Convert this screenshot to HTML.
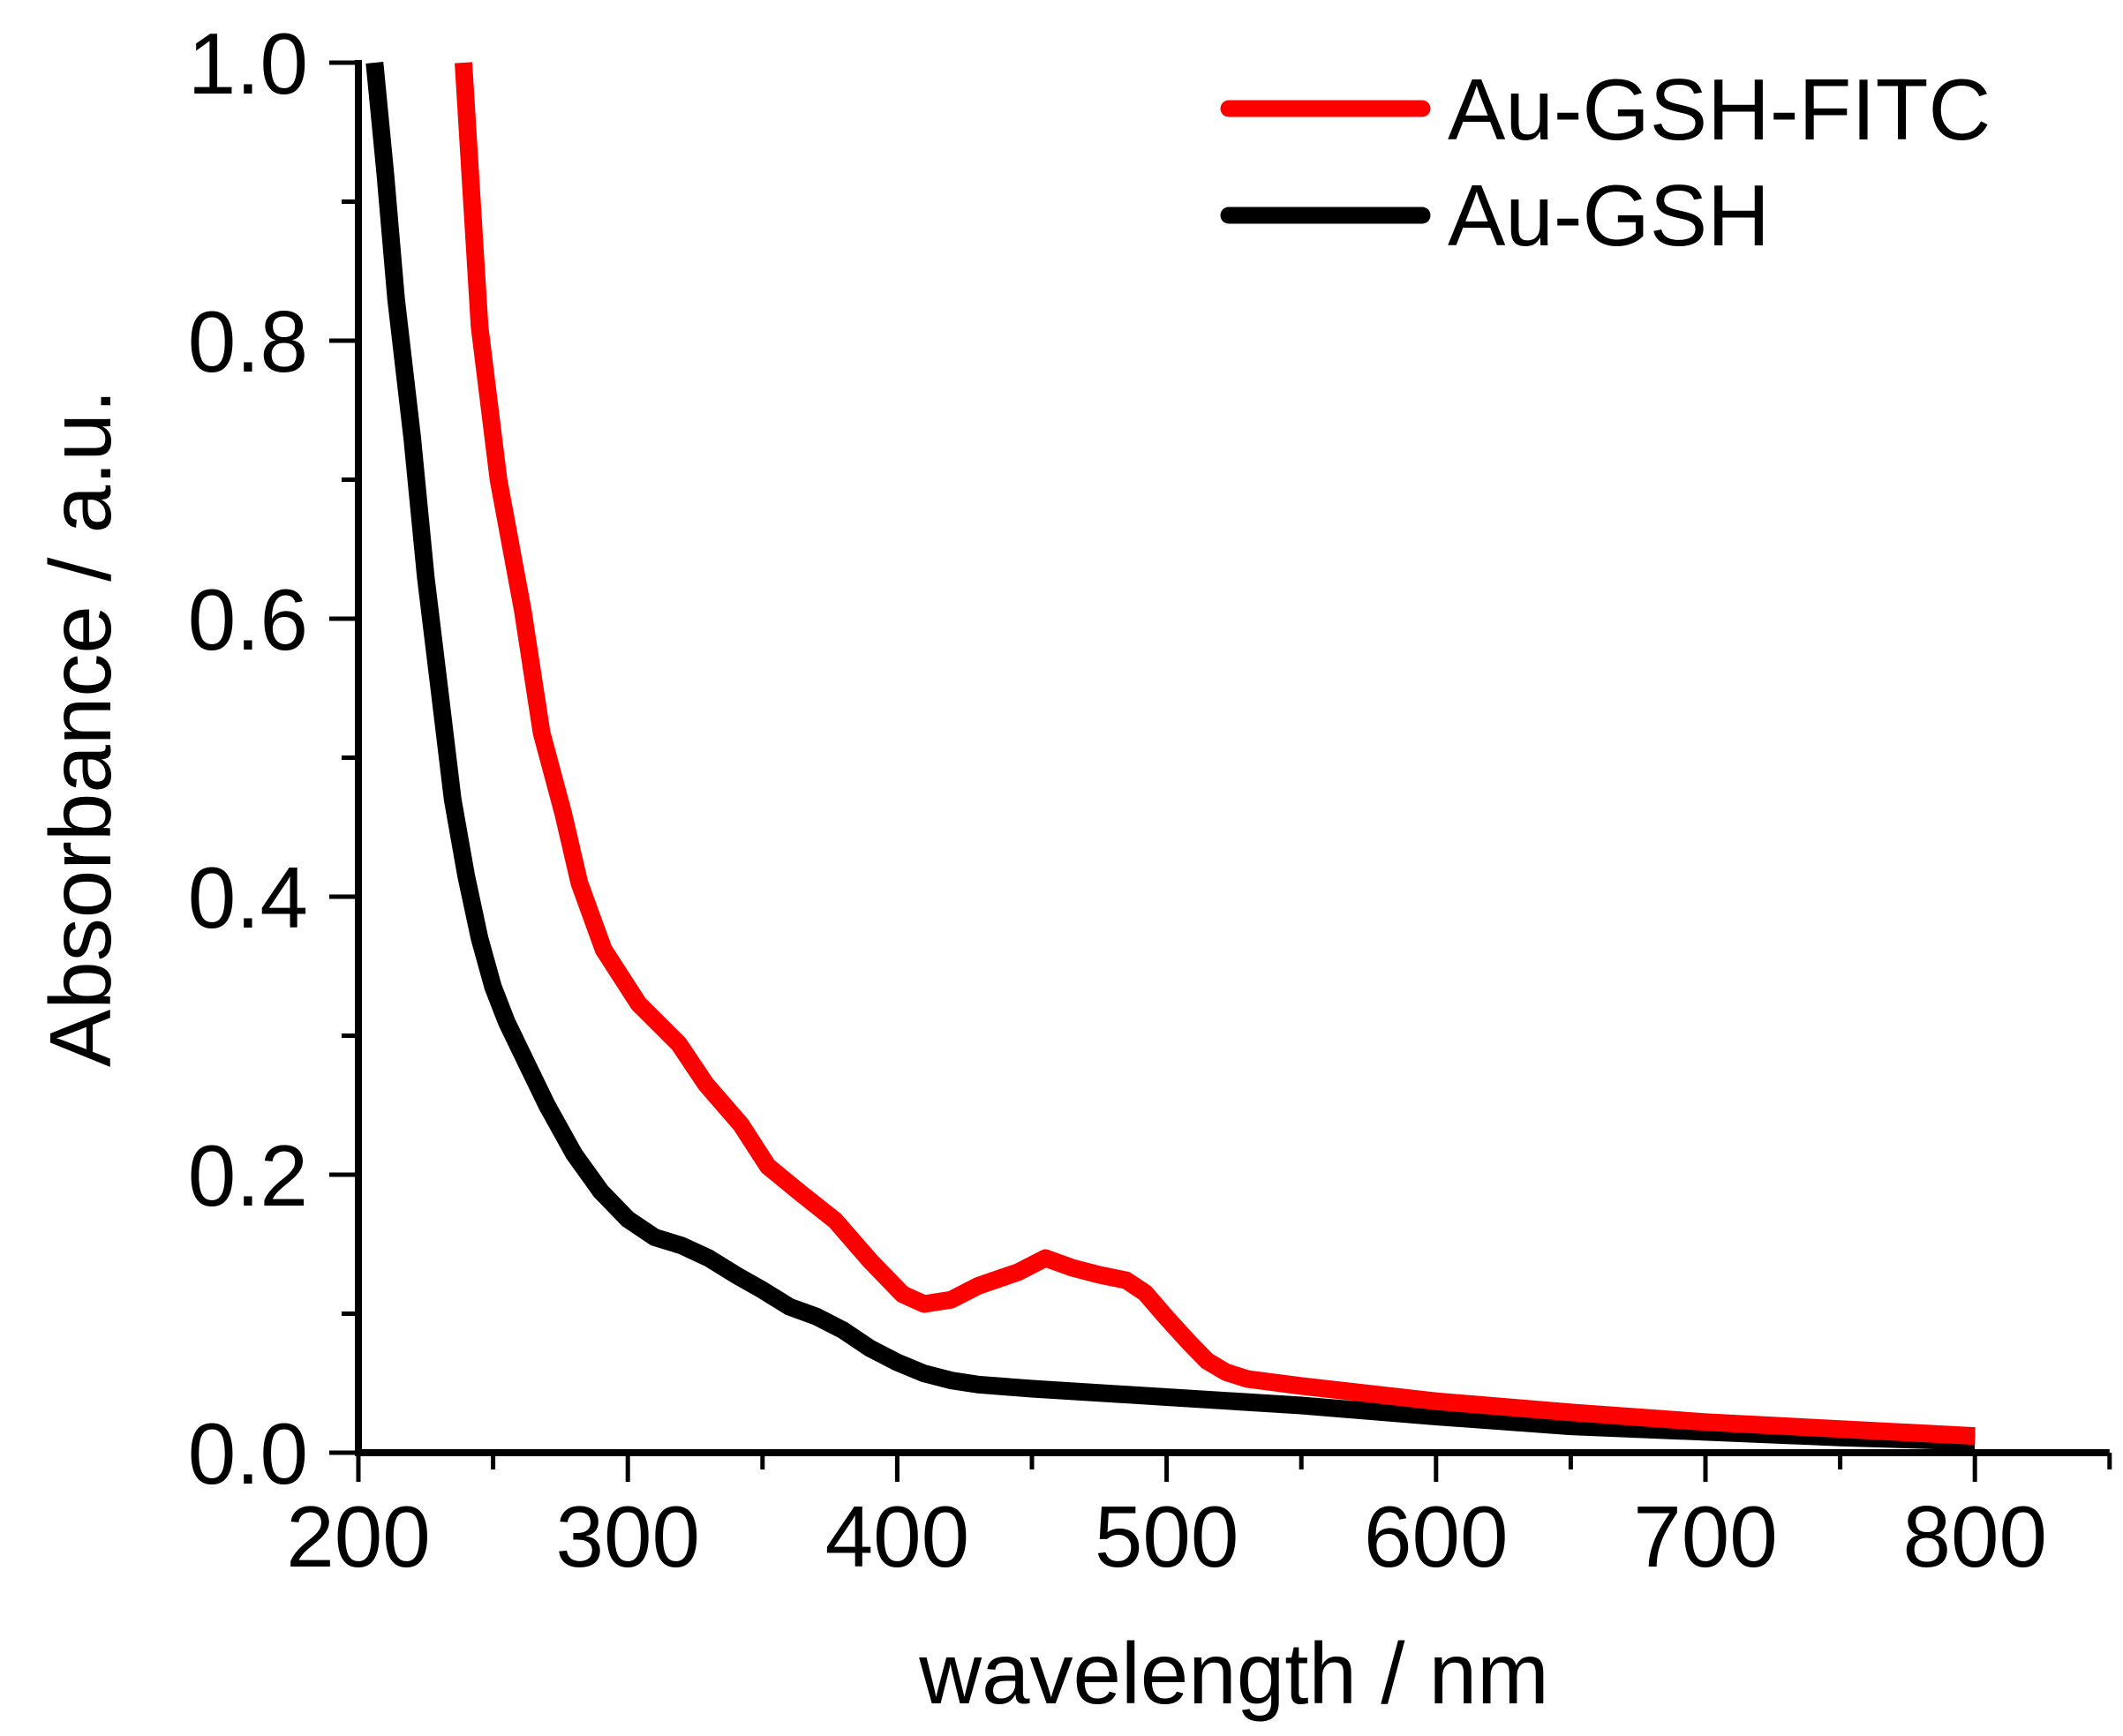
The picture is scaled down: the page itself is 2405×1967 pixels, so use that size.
<!DOCTYPE html>
<html><head><meta charset="utf-8"><style>
html,body{margin:0;padding:0;background:#fff;}
svg{display:block;font-family:"Liberation Sans",Arial,sans-serif;}
</style></head><body>
<svg id="chart" width="2405" height="1967" viewBox="0 0 2405 1967" xmlns="http://www.w3.org/2000/svg">
<g id="axes"></g>
<g id="series"></g>
<g id="legend">
  <line x1="1392" y1="123" x2="1611" y2="123" stroke="#ff0000" stroke-width="19" stroke-linecap="round"/>
  <text x="1640" y="158" font-size="98">Au-GSH-FITC</text>
  <line x1="1392" y1="244" x2="1611" y2="244" stroke="#000" stroke-width="19" stroke-linecap="round"/>
  <text x="1640" y="278" font-size="98">Au-GSH</text>
</g>
<text x="1398" y="1930" font-size="98" text-anchor="middle">wavelength / nm</text>
<text transform="translate(125,825) rotate(-90)" font-size="98" text-anchor="middle">Absorbance / a.u.</text>
</svg>
<script>
const xTicks = [200,300,400,500,600,700,800];
const yTicks = [0.0,0.2,0.4,0.6,0.8,1.0];
const yTickLabels = ["0.0","0.2","0.4","0.6","0.8","1.0"];
const gshX = [206,210,214,220,225,230,235,240,245,250,255,260,270,280,290,300,310,320,330,340,350,360,370,380,390,400,410,420,430,450,500,550,600,650,700,750,800];
const gshY = [1.0,0.92,0.83,0.73,0.63,0.55,0.47,0.415,0.37,0.335,0.31,0.29,0.25,0.215,0.188,0.168,0.155,0.149,0.14,0.128,0.117,0.105,0.098,0.088,0.075,0.065,0.057,0.052,0.049,0.046,0.040,0.034,0.026,0.019,0.015,0.011,0.008];
const fitcX = [239,245,252,261,268,276,282,291,304,319,329,342,352,364,377,390,402,410,420,430,445,455,465,475,485,492,500,508,515,522,530,550,600,650,700,750,800];
const fitcY = [1.0,0.81,0.70,0.606,0.518,0.46,0.41,0.362,0.323,0.294,0.265,0.236,0.206,0.187,0.167,0.138,0.114,0.107,0.11,0.12,0.13,0.14,0.133,0.128,0.124,0.115,0.097,0.08,0.066,0.058,0.053,0.048,0.037,0.029,0.022,0.017,0.012];

const X0=406, XPER=305.2/100, Y0=1646, YPER=1575;
function sx(v){return X0+(v-200)*XPER;}
function sy(v){return Y0-v*YPER;}
const NS="http://www.w3.org/2000/svg";
function mk(tag,attrs,parent){const e=document.createElementNS(NS,tag);for(const k in attrs)e.setAttribute(k,attrs[k]);parent.appendChild(e);return e;}
const axes=document.getElementById('axes');
let e;
e=mk('line',{x1:X0,y1:sy(1.0)-3,x2:X0,y2:Y0+4,stroke:'#000','stroke-width':8},axes);


e=mk('line',{x1:X0-4,y1:Y0,x2:sx(850),y2:Y0,stroke:'#000','stroke-width':8},axes);


for(let v=200;v<=850;v+=50){
  const major=(v%100===0);
  e=mk('line',{x1:sx(v),y1:Y0,x2:sx(v),y2:Y0+(major?33:19),stroke:'#000','stroke-width':5},axes);
  
  
}
xTicks.forEach(v=>{
  e=mk('text',{x:sx(v),y:1775,'font-size':98,'text-anchor':'middle'},axes);
  e.textContent=String(v);
  
  
});
for(let i=0;i<=10;i++){
  const v=i/10, major=(i%2===0);
  e=mk('line',{x1:X0-(major?33:19),y1:sy(v),x2:X0,y2:sy(v),stroke:'#000','stroke-width':5},axes);
  
  
}
yTicks.forEach((v,i)=>{
  e=mk('text',{x:349,y:sy(v)+35,'font-size':98,'text-anchor':'end'},axes);
  e.textContent=yTickLabels[i];
  
  
});
const series=document.getElementById('series');
function path(xs,ys){return xs.map((x,i)=>(i?'L':'M')+sx(x).toFixed(1)+','+sy(ys[i]).toFixed(1)).join(' ');}
e=mk('path',{d:path(gshX,gshY),fill:'none',stroke:'#000','stroke-width':20,'stroke-linejoin':'round'},series);


e=mk('path',{d:path(fitcX,fitcY),fill:'none',stroke:'#ff0000','stroke-width':20,'stroke-linejoin':'round'},series);


</script>
</body></html>
